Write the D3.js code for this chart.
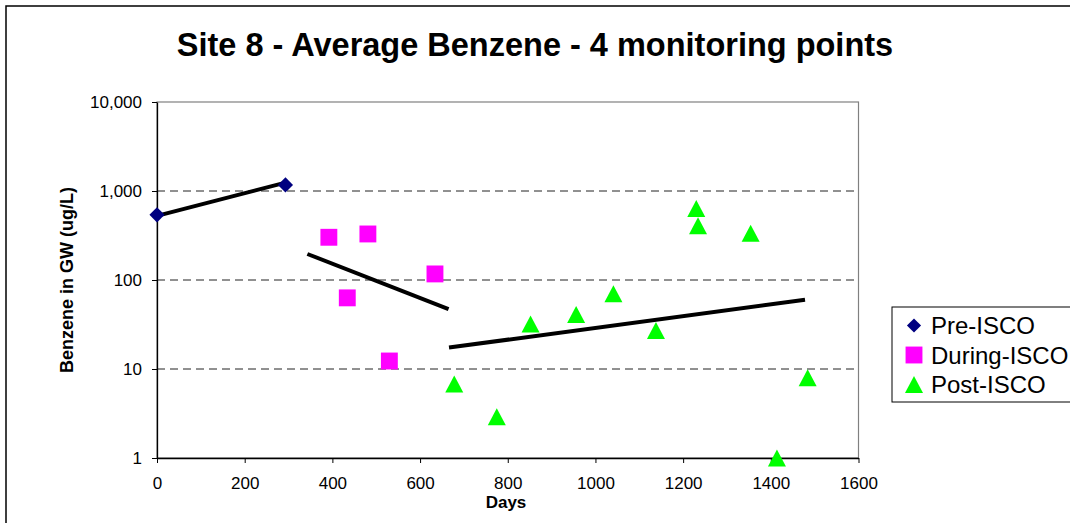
<!DOCTYPE html>
<html>
<head>
<meta charset="utf-8">
<script src="https://cdn.jsdelivr.net/npm/d3@7"></script>
<style>
  body { margin: 0; background: #fff; }
  svg { display: block; font-family: "Liberation Sans", Arial, sans-serif; }
</style>
</head>
<body>
<div id="chart"></div>
<script>
// values
var preDays = [0, 293];
var preVals = [540, 1170];
var duringDays = [392, 434, 481, 530, 634];
var duringVals = [302, 63, 329, 12.3, 117];
var postDays = [678, 775, 852, 956, 1041, 1138, 1230, 1234, 1354, 1414, 1484];
var postVals = [6.8, 2.9, 32, 41, 70, 27, 637, 406, 335, 1, 8.0];

// trend line end points
var preTrend = [[0, 526], [293, 1241]];
var duringTrend = [[343, 196], [665, 47]];
var postTrend = [[666, 17.4], [1478, 60]];

var xTicks = [0, 200, 400, 600, 800, 1000, 1200, 1400, 1600];
var yTicks = [1, 10, 100, 1000, 10000];
var seriesNames = ["Pre-ISCO", "During-ISCO", "Post-ISCO"];

var W = 1070, H = 523;
var margin = {left: 157, top: 102, right: 212, bottom: 65};
var fontFam = "'Liberation Sans', Arial, sans-serif";

var svg = d3.select("#chart").append("svg")
    .attr("width", W).attr("height", H);

// outer frame (runs off right/bottom)
svg.append("rect")
    .attr("x", 6).attr("y", 6)
    .attr("width", W + 10).attr("height", H + 10)
    .attr("fill", "#fff").attr("stroke", "#000").attr("stroke-width", 1.5);

var x = d3.scaleLinear().domain([0, 1600]).range([margin.left, W - margin.right + 0.5]);
var y = d3.scaleLog().domain([1, 10000]).range([H - margin.bottom, margin.top]);

// plot area border
svg.append("rect")
    .attr("x", x(0)).attr("y", y(10000))
    .attr("width", x(1600) - x(0)).attr("height", y(1) - y(10000))
    .attr("fill", "none").attr("stroke", "#808080").attr("stroke-width", 1.2);

// dashed gridlines
svg.append("g").selectAll("line")
    .data([10, 100, 1000])
    .enter().append("line")
    .attr("x1", x(0)).attr("x2", x(1600))
    .attr("y1", d => y(d)).attr("y2", d => y(d))
    .attr("stroke", "#222").attr("stroke-width", 1)
    .attr("stroke-dasharray", "8,5");

var fmt = d3.format(",");

var xAxis = svg.append("g")
    .attr("transform", "translate(0," + y(1) + ")")
    .call(d3.axisBottom(x).tickValues(xTicks).tickSize(5).tickSizeOuter(0).tickFormat(d3.format("d")));
xAxis.selectAll(".tick line").attr("stroke", "#000");
xAxis.select(".domain").attr("stroke", "#000").attr("stroke-width", 1.3);
xAxis.selectAll("text").attr("font-size", 17).attr("y", 31).attr("dy", null).attr("fill", "#000")
    .attr("font-family", fontFam);

var yAxis = svg.append("g")
    .attr("transform", "translate(" + x(0) + ",0)")
    .call(d3.axisLeft(y).tickValues(yTicks).tickSize(5).tickSizeOuter(0).tickFormat(fmt));
yAxis.select(".domain").attr("stroke", "#000").attr("stroke-width", 1.3);
yAxis.selectAll(".tick line").attr("stroke", "#000");
yAxis.selectAll("text").attr("font-size", 17).attr("x", -15).attr("dy", "0.33em").attr("fill", "#000")
    .attr("font-family", fontFam);

// titles
svg.append("text")
    .attr("x", 535).attr("y", 56)
    .attr("text-anchor", "middle")
    .attr("font-size", 32.5).attr("font-weight", "bold")
    .text("Site 8 - Average Benzene - 4 monitoring points");

svg.append("text")
    .attr("x", 506).attr("y", 508)
    .attr("text-anchor", "middle")
    .attr("font-size", 17).attr("font-weight", "bold")
    .text("Days");

svg.append("text")
    .attr("transform", "translate(73," + ((y(1) + y(10000)) / 2) + ") rotate(-90)")
    .attr("text-anchor", "middle")
    .attr("font-size", 18).attr("font-weight", "bold")
    .text("Benzene in GW (ug/L)");

// trend lines
var line = d3.line().x(d => x(d[0])).y(d => y(d[1]));
[preTrend, duringTrend, postTrend].forEach(function(t) {
    svg.append("path")
        .attr("d", line(t))
        .attr("fill", "none").attr("stroke", "#000").attr("stroke-width", 4);
});

// triangle like the spreadsheet marker: w wide, h tall, centred
function triangle(w, h) {
    return {draw: function(ctx) {
        ctx.moveTo(0, -h / 2);
        ctx.lineTo(w / 2, h / 2);
        ctx.lineTo(-w / 2, h / 2);
        ctx.closePath();
    }};
}

var symDiamond = d3.symbol().type(d3.symbolSquare).size(115);
var symSquare = d3.symbol().type(d3.symbolSquare).size(285);
var symTri = d3.symbol().type(triangle(18, 17));

function pts(days, vals) { return days.map((d, i) => [d, vals[i]]); }

svg.append("g").selectAll("path")
    .data(pts(duringDays, duringVals))
    .enter().append("path")
    .attr("d", symSquare)
    .attr("transform", d => "translate(" + x(d[0]) + "," + y(d[1]) + ")")
    .attr("fill", "#ff00ff");

svg.append("g").selectAll("path")
    .data(pts(postDays, postVals))
    .enter().append("path")
    .attr("d", symTri)
    .attr("transform", d => "translate(" + x(d[0]) + "," + y(d[1]) + ")")
    .attr("fill", "#00ff00");

svg.append("g").selectAll("path")
    .data(pts(preDays, preVals))
    .enter().append("path")
    .attr("d", symDiamond)
    .attr("transform", d => "translate(" + x(d[0]) + "," + y(d[1]) + ") rotate(45)")
    .attr("fill", "#000080");

// legend
var lg = svg.append("g").attr("transform", "translate(892,307)");
lg.append("rect")
    .attr("width", 200).attr("height", 95)
    .attr("fill", "#fff").attr("stroke", "#000").attr("stroke-width", 1);

var legSyms = [
    {sym: d3.symbol().type(d3.symbolSquare).size(100), rot: 45, color: "#000080"},
    {sym: d3.symbol().type(d3.symbolSquare).size(285), rot: 0, color: "#ff00ff"},
    {sym: d3.symbol().type(triangle(18, 17)), rot: 0, color: "#00ff00"}
];
seriesNames.forEach(function(name, i) {
    var cy = 18.5 + i * 29.5;
    lg.append("path")
        .attr("d", legSyms[i].sym)
        .attr("transform", "translate(22," + cy + ") rotate(" + legSyms[i].rot + ")")
        .attr("fill", legSyms[i].color);
    lg.append("text")
        .attr("x", 39).attr("y", cy + 8.5)
        .attr("font-size", 24)
        .text(name);
});
</script>
</body>
</html>
